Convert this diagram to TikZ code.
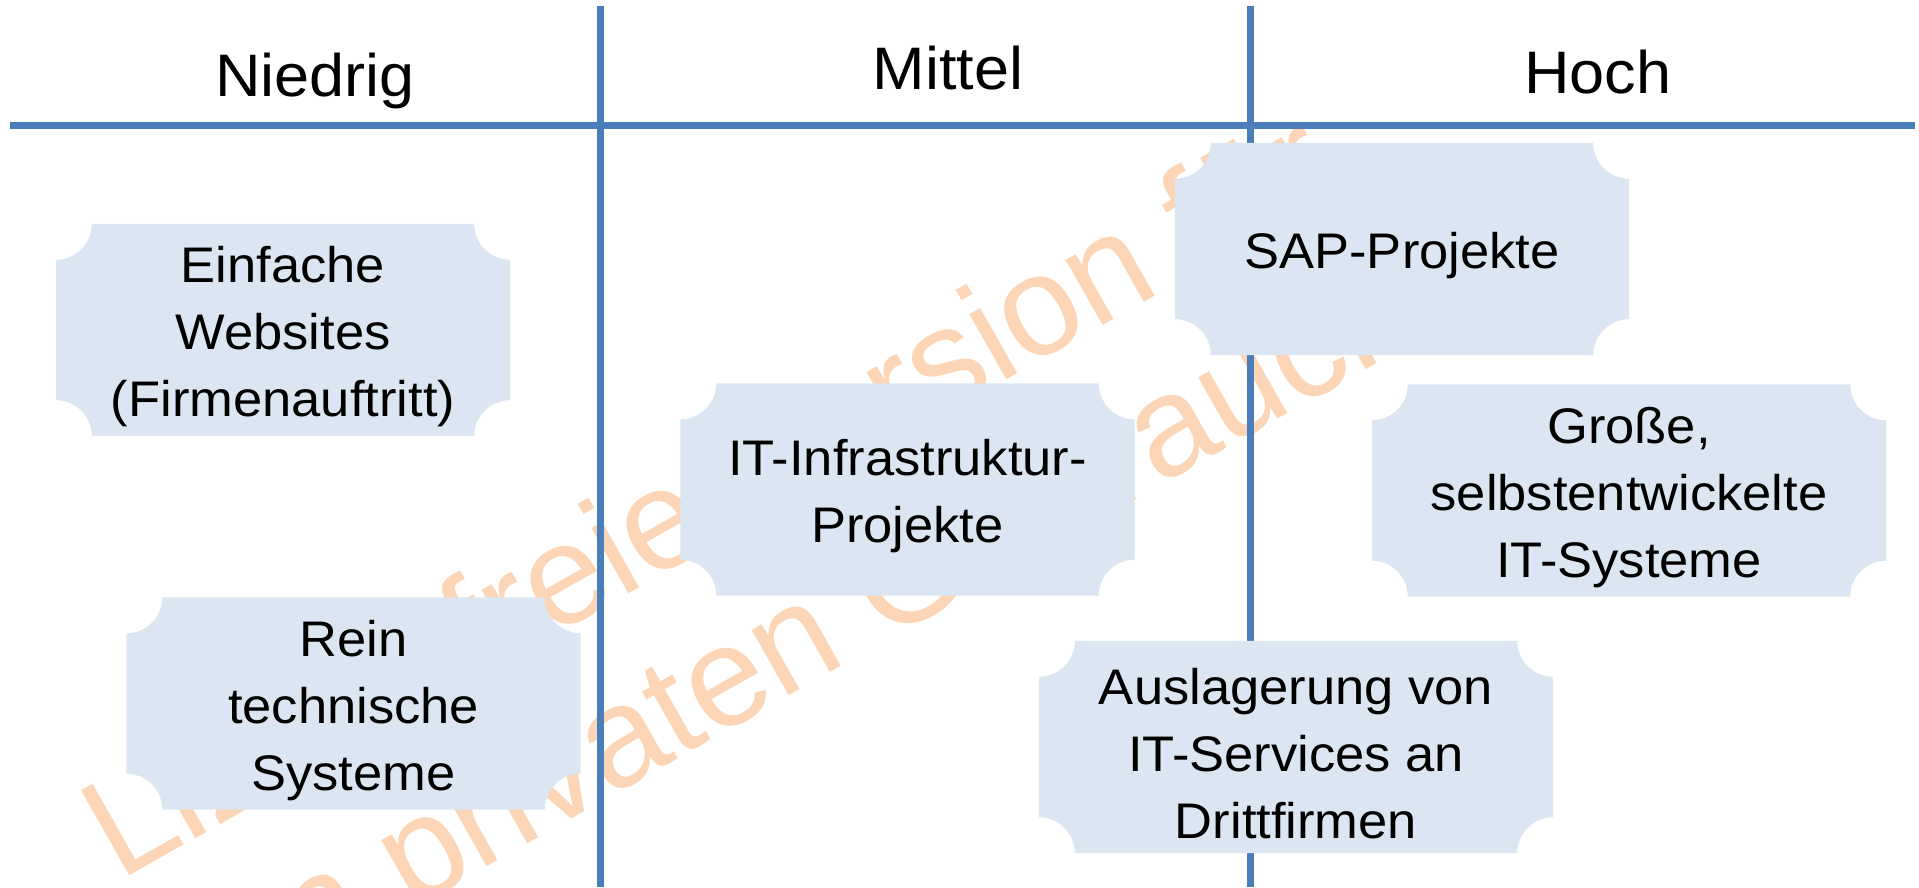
\documentclass[tikz,border=0pt]{standalone}
\usepackage{fontspec}
\setmainfont{Liberation Sans}[FakeStretch=1.05]
\newfontfamily\wmfont{Liberation Sans}
\usetikzlibrary{backgrounds}
\definecolor{gridblue}{HTML}{4A7EBB}
\definecolor{plaqueblue}{HTML}{DCE6F2}
\definecolor{stamp}{HTML}{FBD5B5}
% plaque outline: rectangle with concave quarter-circle corners,
% sitting 7pt above the text node it belongs to
\newcommand\plaquefill[1]{%
  \fill[plaqueblue]
    ([shift={(36pt,7pt)}]#1.south west) -- ([shift={(-36pt,7pt)}]#1.south east)
    arc[start angle=180,end angle=90,radius=36pt]
    -- ([shift={(0pt,-29pt)}]#1.north east)
    arc[start angle=270,end angle=180,radius=36pt]
    -- ([shift={(36pt,7pt)}]#1.north west)
    arc[start angle=0,end angle=-90,radius=36pt]
    -- ([shift={(0pt,43pt)}]#1.south west)
    arc[start angle=90,end angle=0,radius=36pt]
    -- cycle;}
\begin{document}
\begin{tikzpicture}[x=1pt,y=1pt,
  head/.style={font=\fontsize{60}{72}\selectfont, anchor=base, inner sep=0},
  plaque/.style={minimum width=454pt, minimum height=212pt, inner sep=0,
    align=center, font=\fontsize{50}{67}\selectfont, yshift=-7pt},
  wide/.style={plaque, minimum width=514pt},
  grid/.style={draw=gridblue, line width=7pt},
  stampline/.style={font=\wmfont\fontsize{142}{168}\selectfont, text=stamp,
    anchor=base west, inner sep=0, transform shape}]
\useasboundingbox (0,0) rectangle (1919,887);

% grid end points
\coordinate (hl) at (10,761);
\coordinate (hr) at (1915,761);
\coordinate (v1t) at (600,881);
\coordinate (v1b) at (600,0);
\coordinate (v2t) at (1250,881);
\coordinate (v2b) at (1250,0);

% column headings
\node[head] (low) at (315,790) {Niedrig};
\node[head] (mid) at (948,797) {Mittel};
\node[head] (high) at (1598,793) {Hoch};

% project types
\node[plaque] (web) at (283,557) {Einfache\\Websites\\(Firmenauftritt)};
\node[plaque] (tech) at (353.5,183.5) {Rein\\technische\\Systeme};
\node[plaque] (infra) at (907.5,397.5) {IT-Infrastruktur-\\Projekte};
\node[plaque] (sap) at (1402,638) {SAP-Projekte};
\node[wide] (own) at (1629,396.5) {Große,\\selbstentwickelte\\IT-Systeme};
\node[wide] (out) at (1296,140) {Auslagerung von\\IT-Services an\\Drittfirmen};

\begin{scope}[on background layer]
  \begin{scope}
    \clip (0,0) rectangle (1919,887);
    \begin{scope}[shift={(119,5)}, rotate=29.5]
      \node[stampline] (wm1) at (0,0) {Lizenzfreie Version für};
      \node[stampline] (wm2) at (-37,-168) {den privaten Gebrauch};
    \end{scope}
  \end{scope}
  \draw[grid] (hl) -- (hr);
  \draw[grid] (v1t) -- (v1b);
  \draw[grid] (v2t) -- (v2b);
\end{scope}

\begin{scope}[on background layer]
  \plaquefill{web}
  \plaquefill{tech}
  \plaquefill{infra}
  \plaquefill{sap}
  \plaquefill{own}
  \plaquefill{out}
\end{scope}
\end{tikzpicture}
\end{document}
